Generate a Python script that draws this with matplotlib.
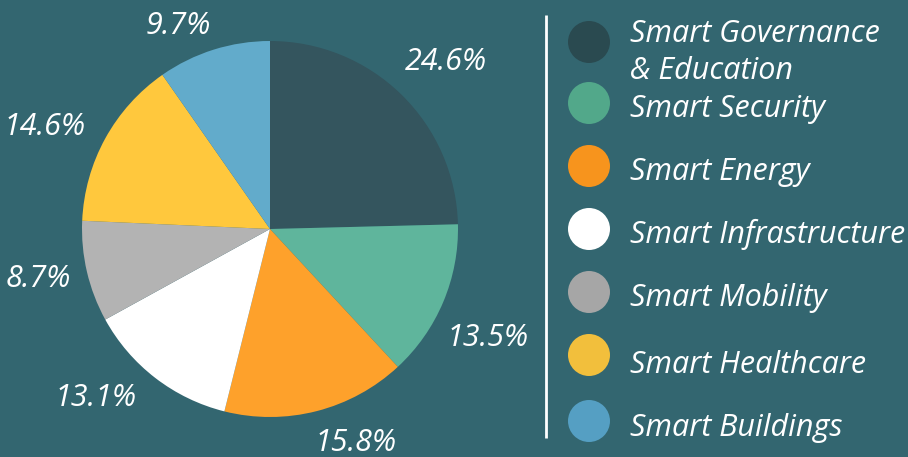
import numpy as np
import matplotlib.pyplot as plt

categories = ['Smart Governance\n& Education', 'Smart Security', 'Smart Energy',
              'Smart Infrastructure', 'Smart Mobility', 'Smart Healthcare',
              'Smart Buildings']
shares = [24.6, 13.5, 15.8, 13.1, 8.7, 14.6, 9.7]

bg = '#336670'
pie_colors = ['#34555e', '#5fb59c', '#fea12b', '#ffffff', '#b3b3b3', '#ffc83d', '#62abcb']
dot_colors = ['#2a4a50', '#52a88a', '#f7941d', '#ffffff', '#a6a6a6', '#f2bf3c', '#559fc3']

# small pixel nudges for the outside labels (x right, y up)
nudge = [(-6, 7), (-10, -16), (-6, -3), (-10, 6), (-2, -4), (-7, -10), (2, -5)]

W, H = 908, 457
fig = plt.figure(figsize=(W / 100, H / 100), dpi=100, facecolor=bg)
ax = fig.add_axes([0, 0, 1, 1])
ax.set_facecolor(bg)
ax.axis('off')

font = dict(family='Open Sans', style='italic', color='white', fontsize=22)

cx, cy, R = 270, H - 229, 188
wedges, _ = ax.pie(shares, colors=pie_colors, center=(cx, cy), radius=R,
                   startangle=90, counterclock=False,
                   wedgeprops=dict(linewidth=0))
ax.set_xlim(0, W)
ax.set_ylim(0, H)
ax.set_aspect('equal')

# percentage labels just outside each wedge, box corner toward the pie
for w, s, (nx, ny) in zip(wedges, shares, nudge):
    mid = np.deg2rad((w.theta1 + w.theta2) / 2)
    c, sn = np.cos(mid), np.sin(mid)
    r = R + 14
    ha = 'center' if abs(c) < 0.2 else ('left' if c > 0 else 'right')
    va = 'center' if abs(sn) < 0.3 else ('bottom' if sn > 0 else 'top')
    ax.text(cx + r * c + nx, cy + r * sn + ny, f'{s:.1f}%', ha=ha, va=va, **font)

# legend
ax.plot([546, 546], [H - 15, H - 438], color='white', lw=2, solid_capstyle='butt')
dot_y = [42, 103, 166, 229, 292, 355, 421]
base_y = [42, 117, 180, 243, 306, 373, 436]
for lab, col, dy, by in zip(categories, dot_colors, dot_y, base_y):
    ax.add_patch(plt.Circle((589, H - dy), 21, color=col, lw=0))
    for k, line in enumerate(lab.split('\n')):
        ax.text(630, H - by - 37 * k, line, ha='left', va='baseline', **font)

fig.savefig('out.png', dpi=100, facecolor=bg)
